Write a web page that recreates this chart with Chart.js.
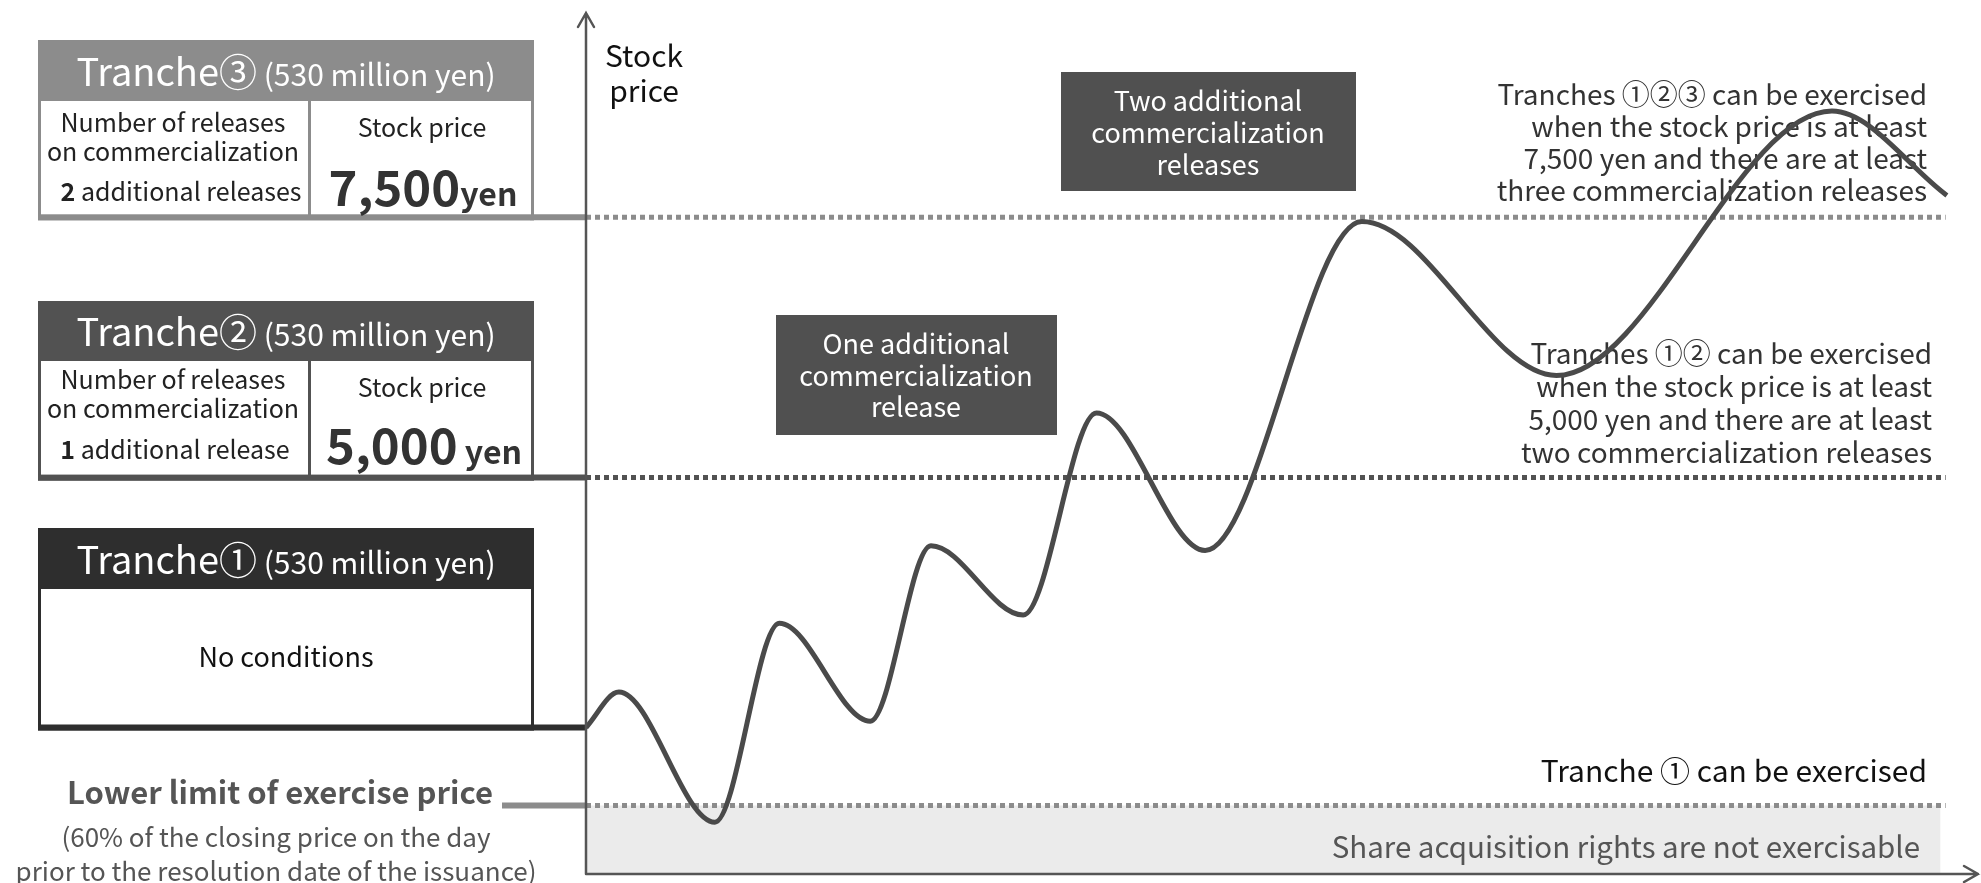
<!DOCTYPE html>
<html>
<head>
<meta charset="utf-8">
<title>Tranche exercise conditions</title>
<script src="https://cdn.jsdelivr.net/npm/chart.js@4/dist/chart.umd.min.js"></script>
<style>
    html, body { margin: 0; padding: 0; background: #fff; }
    #wrap { width: 1981px; height: 883px; }
</style>
</head>
<body>
<div id="wrap"><canvas id="chart" width="1981" height="883"></canvas></div>
<script>
// --- DATA ---
// Stock price path (x = time, arbitrary units; y = yen)
const timeSteps = [0, 2.6, 10.2, 15.3, 22.5, 27.3, 34.6, 40.4, 49.0, 61.4, 76.8, 98.6, 107.7];
const stockPrices = [2600, 2940, 1690, 3600, 2660, 4345, 3680, 5620, 4300, 7460, 5980, 8520, 7710];

// Thresholds (yen)
const tranche3Price = 7500;
const tranche2Price = 5000;
const lowerLimitPrice = 1850;
const thresholdEnd = 107.6;

// Texts
const trancheNames = ['Tranche①', 'Tranche②', 'Tranche③'];
const trancheAmount = ' (530 million yen)';
const releaseLabels = ['', 'additional release', 'additional releases'];
const priceLabels = ['', '5,000', '7,500'];
const rightNotes3 = ['Tranches ①②③ can be exercised', 'when the stock price is at least', '7,500 yen and there are at least', 'three commercialization releases'];
const rightNotes2 = ['Tranches ①② can be exercised', 'when the stock price is at least', '5,000 yen and there are at least', 'two commercialization releases'];
const releaseBoxes = [
    ['One additional', 'commercialization', 'release'],
    ['Two additional', 'commercialization', 'releases']
];

const FONT = '"Noto Sans CJK JP", "Noto Sans", sans-serif';
const f = (size, weight) => (weight ? weight + ' ' : '') + size + 'px ' + FONT;

// Utility: draw a line of text made of runs with different fonts, centred on cx
function drawRuns(ctx, runs, cx, baseline, color) {
    let total = 0;
    runs.forEach(r => { ctx.font = r.font; total += ctx.measureText(r.text).width; });
    let x = cx - total / 2;
    ctx.fillStyle = color;
    ctx.textAlign = 'left';
    ctx.textBaseline = 'alphabetic';
    runs.forEach(r => {
        ctx.font = r.font;
        ctx.fillText(r.text, x, baseline);
        x += ctx.measureText(r.text).width;
    });
}

function drawText(ctx, text, x, y, font, color, align) {
    ctx.font = font;
    ctx.fillStyle = color;
    ctx.textAlign = align || 'center';
    ctx.textBaseline = 'middle';
    ctx.fillText(text, x, y);
}

// Tranche box: header band, white body, bottom edge sitting on the level line
function drawTrancheBox(ctx, color, top, headBottom, lineY) {
    const left = 38, right = 534;
    const bottom = lineY + 3;
    ctx.fillStyle = '#fff';
    ctx.fillRect(left, top, right - left, bottom - top);
    ctx.fillStyle = color;
    ctx.fillRect(left, top, right - left, headBottom - top);
    ctx.strokeStyle = color;
    ctx.lineWidth = 3;
    ctx.strokeRect(left + 1.5, top + 1.5, right - left - 3, bottom - top - 3);
    ctx.fillRect(left, lineY - 3, right - left, 6);
}

// --- DRAWING PLUGIN ---
const diagramPlugin = {
    id: 'diagram',
    beforeDatasetsDraw(chart) {
        const ctx = chart.ctx;
        const y = chart.scales.y;
        const area = chart.chartArea;
        const y3 = y.getPixelForValue(tranche3Price);
        const y2 = y.getPixelForValue(tranche2Price);
        const y1 = y.getPixelForValue(stockPrices[0]);
        const yL = y.getPixelForValue(lowerLimitPrice);
        ctx.save();

        // connector lines from the boxes to the axis
        const connect = (x0, yy, color) => {
            ctx.strokeStyle = color;
            ctx.lineWidth = 6;
            ctx.beginPath();
            ctx.moveTo(x0, yy);
            ctx.lineTo(area.left, yy);
            ctx.stroke();
        };
        connect(530, y3, '#8c8c8c');
        connect(530, y2, '#525252');
        connect(530, y1, '#2e2e2e');
        connect(502, yL, '#8c8c8c');

        // Tranche 3
        drawTrancheBox(ctx, '#8c8c8c', 40, 101, y3);
        drawRuns(ctx, [{ text: trancheNames[2], font: f(38) }, { text: trancheAmount, font: f(30) }], 286, 86, '#fff');
        ctx.fillStyle = '#8c8c8c';
        ctx.fillRect(308, 101, 3, y3 - 101);
        drawText(ctx, 'Number of releases', 173, 122, f(25), '#222');
        drawText(ctx, 'on commercialization', 173, 151, f(25), '#222');
        drawRuns(ctx, [{ text: '2 ', font: f(25, 'bold') }, { text: releaseLabels[2], font: f(25) }], 181, 201, '#222');
        drawText(ctx, 'Stock price', 422, 127, f(25), '#222');
        drawRuns(ctx, [{ text: priceLabels[2], font: f(49, 'bold') }, { text: 'yen', font: f(32, 'bold') }], 423, 206, '#333');

        // Tranche 2
        drawTrancheBox(ctx, '#525252', 301, 361, y2);
        drawRuns(ctx, [{ text: trancheNames[1], font: f(38) }, { text: trancheAmount, font: f(30) }], 286, 346, '#fff');
        ctx.fillStyle = '#525252';
        ctx.fillRect(308, 361, 3, y2 - 361);
        drawText(ctx, 'Number of releases', 173, 379, f(25), '#222');
        drawText(ctx, 'on commercialization', 173, 408, f(25), '#222');
        drawRuns(ctx, [{ text: '1 ', font: f(25, 'bold') }, { text: releaseLabels[1], font: f(25) }], 175, 459, '#222');
        drawText(ctx, 'Stock price', 422, 387, f(25), '#222');
        drawRuns(ctx, [{ text: priceLabels[1], font: f(49, 'bold') }, { text: ' yen', font: f(32, 'bold') }], 424, 464, '#333');

        // Tranche 1
        drawTrancheBox(ctx, '#2e2e2e', 528, 589, y1);
        drawRuns(ctx, [{ text: trancheNames[0], font: f(38) }, { text: trancheAmount, font: f(30) }], 286, 574, '#fff');
        drawText(ctx, 'No conditions', 286, 657, f(27), '#111');

        // Lower limit
        drawText(ctx, 'Lower limit of exercise price', 280, 792, f(31, 'bold'), '#555');
        drawText(ctx, '(60% of the closing price on the day', 276, 837, f(26), '#555');
        drawText(ctx, 'prior to the resolution date of the issuance)', 276, 871, f(26), '#555');

        // Axis label
        drawText(ctx, 'Stock', 644, 56, f(30), '#111');
        drawText(ctx, 'price', 644, 91, f(30), '#111');

        // Release boxes
        ctx.fillStyle = '#505050';
        ctx.fillRect(776, 315, 281, 120);
        ctx.fillRect(1061, 72, 295, 119);
        releaseBoxes[0].forEach((t, i) => drawText(ctx, t, 916, 344 + i * 31.5, f(27), '#fff'));
        releaseBoxes[1].forEach((t, i) => drawText(ctx, t, 1208, 101 + i * 32, f(27), '#fff'));

        // Right-hand notes
        rightNotes3.forEach((t, i) => drawText(ctx, t, 1927, 94 + i * 32, f(28), '#333', 'right'));
        rightNotes2.forEach((t, i) => drawText(ctx, t, 1932, 353 + i * 33, f(28), '#333', 'right'));
        drawText(ctx, 'Tranche ① can be exercised', 1927, 771, f(30), '#111', 'right');

        ctx.restore();
    },
    afterDatasetsDraw(chart) {
        const ctx = chart.ctx;
        const a = chart.chartArea;
        ctx.save();
        // label on the grey band (drawn after the fill)
        drawText(ctx, 'Share acquisition rights are not exercisable', 1920, 847, f(29.5), '#555', 'right');

        ctx.strokeStyle = '#555';
        ctx.lineWidth = 2.5;
        ctx.lineCap = 'round';
        ctx.beginPath();
        // y axis with open arrow
        ctx.moveTo(a.left, a.bottom);
        ctx.lineTo(a.left, a.top);
        ctx.moveTo(a.left - 8, a.top + 14);
        ctx.lineTo(a.left, a.top);
        ctx.lineTo(a.left + 8, a.top + 14);
        // x axis with open arrow
        ctx.moveTo(a.left, a.bottom);
        ctx.lineTo(a.right - 3, a.bottom);
        ctx.moveTo(a.right - 17, a.bottom - 8);
        ctx.lineTo(a.right - 3, a.bottom);
        ctx.lineTo(a.right - 17, a.bottom + 8);
        ctx.stroke();
        ctx.restore();
    }
};

// --- CHART ---
const pricePoints = timeSteps.map((t, i) => ({ x: t, y: stockPrices[i] }));
const levelLine = (v) => [{ x: 0, y: v }, { x: thresholdEnd, y: v }];

new Chart(document.getElementById('chart').getContext('2d'), {
    type: 'line',
    data: {
        datasets: [
            {
                label: 'Stock price',
                data: pricePoints,
                borderColor: '#4a4a4a',
                borderWidth: 5,
                cubicInterpolationMode: 'monotone',
                pointRadius: 0,
                fill: false,
                order: 0
            },
            {
                label: 'Tranche 3',
                data: levelLine(tranche3Price),
                borderColor: '#8c8c8c',
                borderWidth: 5,
                borderDash: [5, 4],
                pointRadius: 0,
                fill: false,
                order: 1
            },
            {
                label: 'Tranche 2',
                data: levelLine(tranche2Price),
                borderColor: '#525252',
                borderWidth: 5,
                borderDash: [5, 4],
                pointRadius: 0,
                fill: false,
                order: 1
            },
            {
                label: 'Lower limit',
                data: levelLine(lowerLimitPrice),
                borderColor: '#8c8c8c',
                borderWidth: 5,
                borderDash: [5, 4],
                pointRadius: 0,
                fill: false,
                order: 1
            },
            {
                label: 'Not exercisable',
                data: [{ x: 0, y: lowerLimitPrice }, { x: thresholdEnd - 0.4, y: lowerLimitPrice }],
                borderWidth: 0,
                pointRadius: 0,
                backgroundColor: '#ebebeb',
                fill: 'start',
                order: 2
            }
        ]
    },
    options: {
        responsive: false,
        animation: false,
        devicePixelRatio: 1,
        layout: { padding: { left: 586, top: 13, right: 0, bottom: 9 } },
        plugins: {
            legend: { display: false },
            tooltip: { enabled: false }
        },
        scales: {
            x: { type: 'linear', min: 0, max: 110.4, display: false },
            y: { min: 1193, max: 9462, display: false }
        }
    },
    plugins: [diagramPlugin]
});
</script>
</body>
</html>
